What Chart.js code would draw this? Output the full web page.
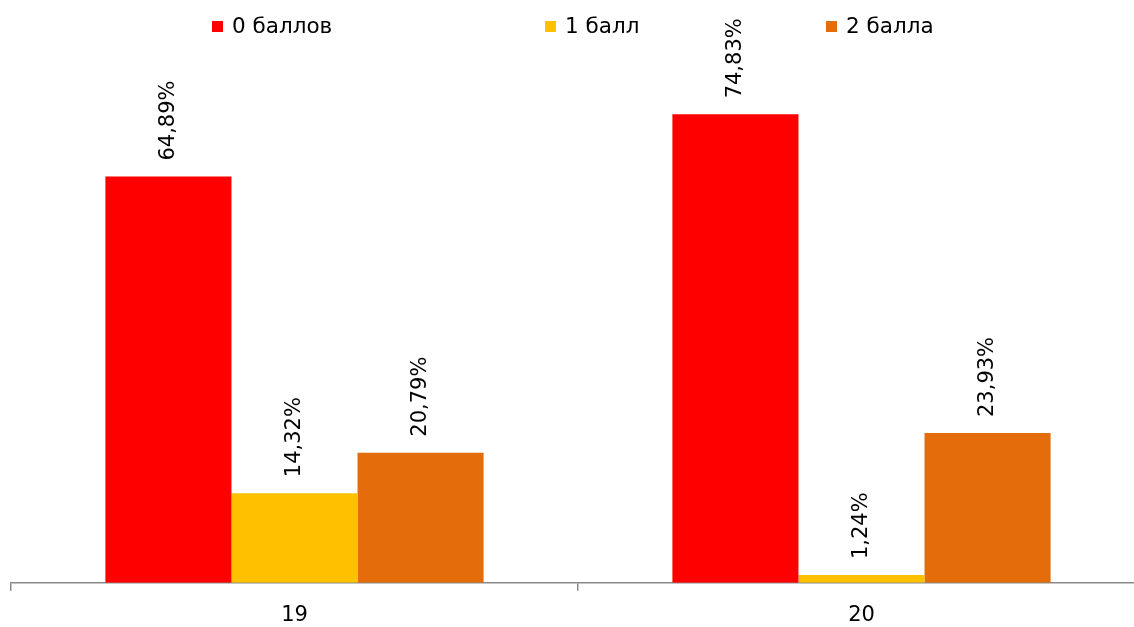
<!DOCTYPE html>
<html>
<head>
<meta charset="utf-8">
<script src="https://cdn.jsdelivr.net/npm/chart.js@4/dist/chart.umd.min.js"></script>
<style>
  html, body { margin: 0; padding: 0; background: #fff; overflow: hidden; width: 1134px; height: 627px; }
  #wrap { position: absolute; left: 0; top: 0; width: 1146px; height: 627px; }
</style>
</head>
<body>
<div id="wrap"><canvas id="c"></canvas></div>
<script>
const categories = ['19', '20'];
const seriesNames = ['0 баллов', '1 балл', '2 балла'];
const values0 = [64.89, 74.83];
const values1 = [14.32, 1.24];
const values2 = [20.79, 23.93];
const seriesColors = ['#FF0000', '#FFC000', '#E46C0A'];

const FONT = "'DejaVu Sans', sans-serif";

function fmt(v) { return v.toFixed(2).replace('.', ',') + '%'; }

const labelPlugin = {
  id: 'barLabels',
  afterDatasetsDraw(chart) {
    const ctx = chart.ctx;
    ctx.save();
    ctx.fillStyle = '#000';
    ctx.font = '21px ' + FONT;
    ctx.textAlign = 'left';
    ctx.textBaseline = 'middle';
    chart.data.datasets.forEach((ds, di) => {
      const meta = chart.getDatasetMeta(di);
      meta.data.forEach((bar, i) => {
        ctx.save();
        ctx.translate(bar.x, bar.y - 16);
        ctx.rotate(-Math.PI / 2);
        ctx.fillText(fmt(ds.data[i]), 0, 0);
        ctx.restore();
      });
    });
    ctx.restore();
  }
};

const legendPlugin = {
  id: 'customLegend',
  afterDraw(chart) {
    const ctx = chart.ctx;
    const xs = chart.options.plugins.customLegend.positions;
    ctx.save();
    ctx.font = '21.5px ' + FONT;
    ctx.textBaseline = 'middle';
    ctx.textAlign = 'left';
    chart.data.datasets.forEach((ds, i) => {
      const x = xs[i];
      ctx.fillStyle = ds.backgroundColor;
      ctx.fillRect(x, 21, 11, 11);
      ctx.fillStyle = '#000';
      ctx.fillText(ds.label, x + 20, 27);
    });
    ctx.restore();
  }
};

new Chart(document.getElementById('c'), {
  type: 'bar',
  data: {
    labels: categories,
    datasets: [
      { label: seriesNames[0], data: values0, backgroundColor: seriesColors[0] },
      { label: seriesNames[1], data: values1, backgroundColor: seriesColors[1] },
      { label: seriesNames[2], data: values2, backgroundColor: seriesColors[2] }
    ]
  },
  options: {
    responsive: true,
    maintainAspectRatio: false,
    animation: false,
    devicePixelRatio: 1,
    layout: { padding: { left: 11, right: 1, top: 82, bottom: -13 } },
    datasets: { bar: { categoryPercentage: 0.667, barPercentage: 1.0 } },
    plugins: {
      legend: { display: false },
      tooltip: { enabled: false },
      customLegend: { positions: [212, 545, 826] }
    },
    scales: {
      x: {
        grid: { offset: true, drawOnChartArea: false, tickLength: 8, color: '#898989', lineWidth: 1.5 },
        border: { color: '#898989', width: 1.5 },
        ticks: { color: '#000', font: { family: FONT, size: 21 }, padding: 12 }
      },
      y: {
        display: false,
        min: 0,
        max: 80
      }
    }
  },
  plugins: [labelPlugin, legendPlugin]
});
</script>
</body>
</html>
